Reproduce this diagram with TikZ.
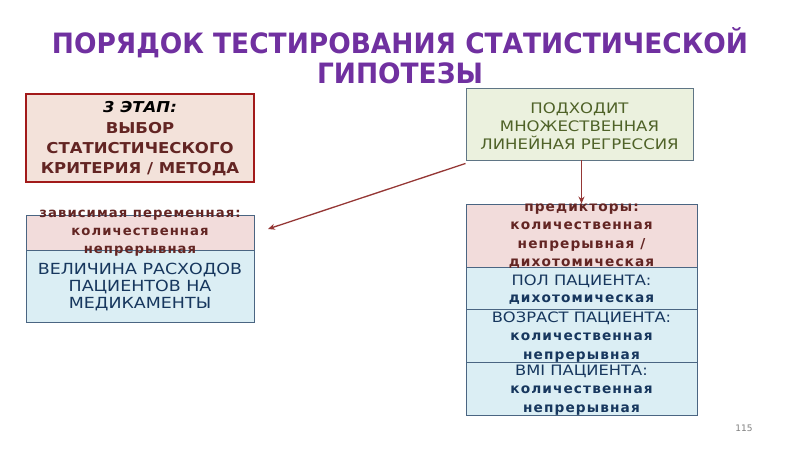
\documentclass[tikz,border=0pt]{standalone}
\usepackage{fontspec}
\setmainfont{DejaVu Sans}
\newfontfamily\titlefont{DejaVu Sans Condensed}[FakeStretch=1.05]
\newfontfamily\spaced{DejaVu Sans}[LetterSpace=8]
\newfontfamily\wide{DejaVu Sans}[FakeStretch=1.14]
\newfontfamily\widebold{DejaVu Sans}[FakeStretch=1.1]
\usetikzlibrary{arrows.meta}
\definecolor{ttl}{HTML}{7030A0}
\definecolor{peach}{HTML}{F3E2DA}
\definecolor{dred}{HTML}{A21A1A}
\definecolor{brown}{HTML}{632523}
\definecolor{lgreen}{HTML}{EBF1DE}
\definecolor{olive}{HTML}{4F6228}
\definecolor{gborder}{HTML}{5F7585}
\definecolor{pinkc}{HTML}{F2DCDB}
\definecolor{bluec}{HTML}{DBEEF4}
\definecolor{cellb}{HTML}{4A6582}
\definecolor{navy}{HTML}{17375E}
\definecolor{arr}{HTML}{953735}
\tikzset{
  cell/.style={draw=cellb, line width=0.9pt, minimum width=#1, inner sep=0pt},
  pinkcell/.style={cell=#1, fill=pinkc},
  bluecell/.style={cell=#1, fill=bluec},
  txt/.style={align=center, inner sep=0pt},
  ltxt/.style={txt, text=brown, font=\spaced\bfseries\fontsize{#1}{18.3}\selectfont},
  ntxt/.style={txt, text=navy, font=\spaced\bfseries\fontsize{13.7}{#1}\selectfont},
  conn/.style={draw=arr, line width=1.3pt, -{Stealth[length=7pt,width=6pt]}}
}
\newcommand\capline[1]{{\wide\mdseries\fontsize{14.3}{17}\selectfont #1}}
\begin{document}
\begin{tikzpicture}[x=1pt,y=-1pt]
\fill[white] (0,0) rectangle (800,449);
\useasboundingbox (0,0) rectangle (800,449);
% title
\node[txt, text=ttl, font=\titlefont\bfseries\fontsize{28}{30}\selectfont] (title) at (400,56)
  {ПОРЯДОК ТЕСТИРОВАНИЯ СТАТИСТИЧЕСКОЙ\\ГИПОТЕЗЫ};
% box 1
\node[draw=dred, line width=2pt, fill=peach, minimum width=228pt, minimum height=88pt, inner sep=0pt] (b1) at (140,138) {};
\node[txt, text=brown, font=\widebold\bfseries\fontsize{15}{20.3}\selectfont] (b1t) at (140,139)
  {\textcolor{black}{\itshape 3 ЭТАП:}\\ВЫБОР\\СТАТИСТИЧЕСКОГО\\КРИТЕРИЯ / МЕТОДА};
% box 2
\node[draw=gborder, line width=0.9pt, fill=lgreen, minimum width=227pt, minimum height=72pt, inner sep=0pt] (b2) at (579.5,124) {};
\node[txt, text=olive, font=\wide\fontsize{14.5}{18}\selectfont] (b2t) at (579.5,126)
  {ПОДХОДИТ\\МНОЖЕСТВЕННАЯ\\ЛИНЕЙНАЯ РЕГРЕССИЯ};
% left stack
\node[pinkcell=228pt, minimum height=35pt] (l1) at (140,232.5) {};
\node[bluecell=228pt, minimum height=72pt] (l2) at (140,286) {};
\node[ltxt=13.2] (l1t) at (140,233) {зависимая переменная:\\количественная\\непрерывная};
\node[txt, text=navy, font=\wide\fontsize{15.3}{17}\selectfont] (l2t) at (140,287) {ВЕЛИЧИНА РАСХОДОВ\\ПАЦИЕНТОВ НА\\МЕДИКАМЕНТЫ};
% right stack
\node[pinkcell=231pt, minimum height=63pt] (r1) at (581.5,235.5) {};
\node[bluecell=231pt, minimum height=42pt] (r2) at (581.5,288) {};
\node[bluecell=231pt, minimum height=53pt] (r3) at (581.5,335.5) {};
\node[bluecell=231pt, minimum height=53pt] (r4) at (581.5,388.5) {};
\node[ltxt=13.7] (r1t) at (581.5,236) {предикторы:\\количественная\\непрерывная /\\дихотомическая};
\node[ntxt=17] (r2t) at (581.5,290) {\capline{ПОЛ ПАЦИЕНТА:}\\дихотомическая};
\node[ntxt=18.5] (r3t) at (581.5,337) {\capline{ВОЗРАСТ ПАЦИЕНТА:}\\количественная\\непрерывная};
\node[ntxt=18.5] (r4t) at (581.5,390) {\capline{BMI ПАЦИЕНТА:}\\количественная\\непрерывная};
% connectors
\coordinate (a1end) at (268,229);
\draw[conn] ([yshift=-3pt]b2.south west) -- (a1end);
\draw[conn] (r1.north |- b2.south) -- (r1.north);
% page number
\node[txt, text=gray, font=\fontsize{9}{10}\selectfont] (pg) at (744,428) {115};
\end{tikzpicture}
\end{document}
